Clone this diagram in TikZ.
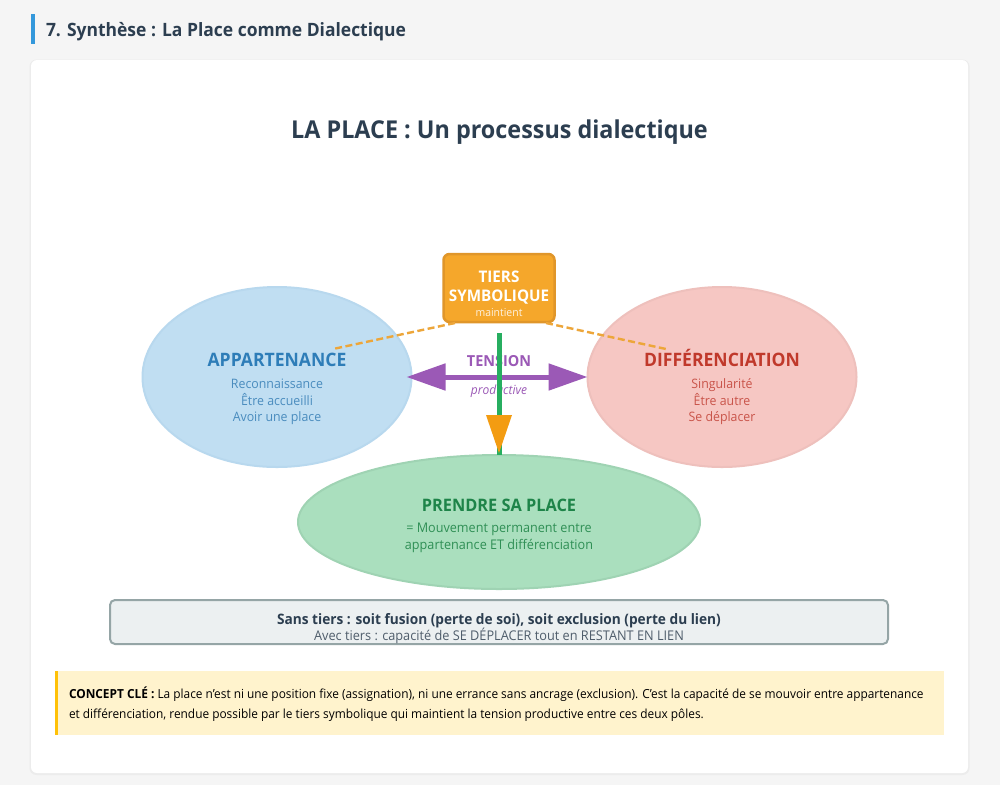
\documentclass[tikz,border=0pt]{standalone}
\usepackage{fontspec}
\setmainfont[FakeStretch=0.95]{Open Sans}
\usetikzlibrary{arrows.meta,shapes.geometric}
\definecolor{pagegray}{HTML}{F5F5F5}
\definecolor{cardedge}{HTML}{ECECEC}
\definecolor{headblue}{HTML}{3498DB}
\definecolor{darkslate}{HTML}{2C3E50}
\definecolor{bluefill}{HTML}{C0DEF2}
\definecolor{blueedge}{HTML}{B8D8EE}
\definecolor{bluetext}{HTML}{2E7DB8}
\definecolor{bluesub}{HTML}{4A8CBE}
\definecolor{redfill}{HTML}{F6C7C3}
\definecolor{rededge}{HTML}{EEC0BC}
\definecolor{redtext}{HTML}{C0392B}
\definecolor{redsub}{HTML}{C9544A}
\definecolor{greenfill}{HTML}{AADFBE}
\definecolor{greenedge}{HTML}{9FD3B3}
\definecolor{greentext}{HTML}{1E8449}
\definecolor{greensub}{HTML}{2F8F55}
\definecolor{vertline}{HTML}{27AE60}
\definecolor{tiersfill}{HTML}{F5A72B}
\definecolor{tiersedge}{HTML}{E0962A}
\definecolor{tipcolor}{HTML}{F39C12}
\definecolor{dashcolor}{HTML}{EDA63A}
\definecolor{purpleline}{HTML}{9B59B6}
\definecolor{notefill}{HTML}{ECF0F1}
\definecolor{noteedge}{HTML}{95A5A6}
\definecolor{notetext}{HTML}{4F5D6B}
\definecolor{keyfill}{HTML}{FFF3CD}
\definecolor{keystrip}{HTML}{FFC107}
\newcommand{\fsz}[1]{\fontsize{#1}{#1}\selectfont}
\tikzset{
    lbl/.style={anchor=base, inner sep=0pt, outer sep=0pt},
    pole/.style={ellipse, draw, line width=2pt, inner sep=0pt, outer sep=0pt},
    dashlink/.style={line width=2.4pt, dashcolor, dash pattern=on 7pt off 3.5pt},
}
\begin{document}
\begin{tikzpicture}[x=1pt, y=-1pt]
                \useasboundingbox (0,0) rectangle (1000,785);
                \fill [pagegray] (0,0) rectangle (1000,785);
                \fill [cardedge, rounded corners=7pt] (29.5,59.5) rectangle (969.5,775);
                \fill [white, rounded corners=6pt] (31,60) rectangle (968,773);
                \fill [headblue] (31,14) rectangle (35,44);
                \node [lbl, anchor=base west, darkslate] (heading) at (46,36) {\fsz{18.4}\bfseries 7. Synthèse : La Place comme Dialectique};
                \node [lbl, darkslate] (title) at (499.5,138) {\fsz{24.6}\bfseries LA PLACE : Un processus dialectique};

                \node [pole, fill=bluefill, draw=blueedge, minimum width=269pt, minimum height=180pt] (appartenance) at (277,377) {};
                \node [pole, fill=redfill, draw=rededge, minimum width=269pt, minimum height=180pt] (differenciation) at (722,377) {};
                \node [pole, fill=greenfill, draw=greenedge, minimum width=402pt, minimum height=134pt] (prendre) at (499,522) {};
                \node [draw=tiersedge, fill=tiersfill, line width=2.5pt, rounded corners=6pt, minimum width=111pt, minimum height=68pt, inner sep=0pt] (tiers) at (499,288) {};

                \coordinate (tiersleft) at (455,323);
                \coordinate (tiersright) at (546,323);
                \coordinate (append) at (333,349);
                \coordinate (diffend) at (666,349);
                \coordinate (greentop) at (499,333);
                \draw [dashlink] (tiersleft) -- (append);
                \draw [dashlink] (tiersright) -- (diffend);

                \node [lbl, bluetext] (apptitle) at (277,366) {\fsz{18.5}\bfseries APPARTENANCE};
                \node [lbl, bluesub] (appa) at (277,388) {\fsz{13}Reconnaissance};
                \node [lbl, bluesub] (appb) at (277,405) {\fsz{13}Être accueilli};
                \node [lbl, bluesub] (appc) at (277,421) {\fsz{13}Avoir une place};
                \node [lbl, redtext] (difftitle) at (722,366) {\fsz{18.5}\bfseries DIFFÉRENCIATION};
                \node [lbl, redsub] (diffa) at (722,388) {\fsz{13}Singularité};
                \node [lbl, redsub] (diffb) at (722,405) {\fsz{13}Être autre};
                \node [lbl, redsub] (diffc) at (722,421) {\fsz{13}Se déplacer};
                \node [lbl, greentext] (prendretitle) at (499,511) {\fsz{17.2}\bfseries PRENDRE SA PLACE};
                \node [lbl, greensub] (prendrea) at (499,532) {\fsz{13.3}= Mouvement permanent entre};
                \node [lbl, greensub] (prendreb) at (499,549) {\fsz{13.3}appartenance ET différenciation};
                \node [lbl, white] (tiersa) at (499,282) {\fsz{16}\bfseries TIERS};
                \node [lbl, white] (tiersb) at (499,301) {\fsz{16}\bfseries SYMBOLIQUE};
                \node [lbl, white, opacity=0.85] (tiersc) at (499,316) {\fsz{11}maintient};
                \node [lbl, purpleline] (tension) at (499,366) {\fsz{15.2}\bfseries TENSION};
                \node [lbl, purpleline] (productive) at (499,394) {\fsz{12.6}\itshape productive};

                \draw [{Triangle[length=39pt,width=26pt]}-{Triangle[length=39pt,width=26pt]}, line width=5pt, purpleline, shorten <=-5pt] (appartenance.east) -- (differenciation.west);
                \draw [line width=5pt, vertline] (greentop) -- (prendre.north);
                \fill [tipcolor] (486,415) -- (512,415) -- (499,453) -- cycle;

                \node [draw=noteedge, fill=notefill, line width=2pt, rounded corners=5pt, minimum width=778pt, minimum height=44pt, inner sep=0pt] (notebox) at (499,622) {};
                \node [lbl, darkslate] (notea) at (499,624) {\fsz{14.4}\bfseries Sans tiers : soit fusion (perte de soi), soit exclusion (perte du lien)};
                \node [lbl, notetext] (noteb) at (499,640) {\fsz{13.4}Avec tiers : capacité de SE DÉPLACER tout en RESTANT EN LIEN};

                \fill [keyfill] (55,671) rectangle (944,735);
                \fill [keystrip] (55,671) rectangle (58,735);
                \node [lbl, anchor=base west, black] (keya) at (69,698) {\fsz{12.5}\textbf{CONCEPT CLÉ :} La place n'est ni une position fixe (assignation), ni une errance sans ancrage (exclusion). C'est la capacité de se mouvoir entre appartenance};
                \node [lbl, anchor=base west, black] (keyb) at (69,718) {\fsz{12.5}et différenciation, rendue possible par le tiers symbolique qui maintient la tension productive entre ces deux pôles.};
            \end{tikzpicture}
\end{document}
